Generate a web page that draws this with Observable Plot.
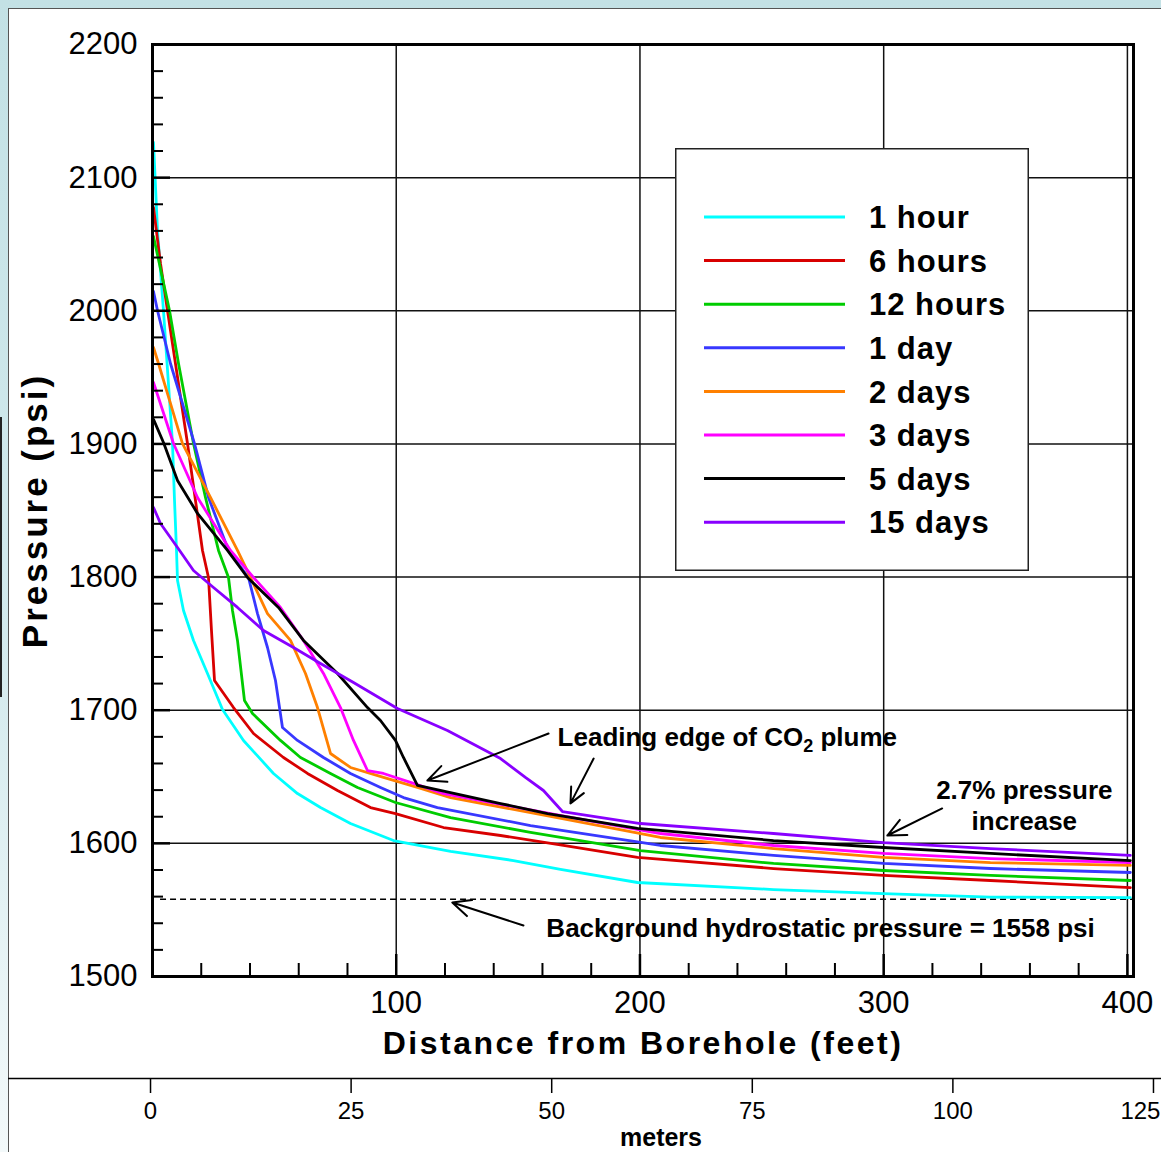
<!DOCTYPE html>
<html>
<head>
<meta charset="utf-8">
<script src="https://cdn.jsdelivr.net/npm/d3@7"></script>
<script src="https://cdn.jsdelivr.net/npm/@observablehq/plot@0.6"></script>
<style>
  body { margin: 0; }
  #wrap { position: relative; width: 1161px; height: 1152px; overflow: hidden;
          background: linear-gradient(to bottom, #c3e1e5 0%, #d3eaed 55%, #f3f9fa 100%);
          font-family: "Liberation Sans", Arial, sans-serif; }
  #panel { position: absolute; left: 8px; top: 8px; right: 0; bottom: 0; background: #fff;
           border-left: 1px solid #555; border-top: 1px solid #555; }
  #edge { position: absolute; left: 0; top: 417px; width: 2px; height: 280px; background: #222; }
  #main { position: absolute; left: 0; top: 0; }
  #meters { position: absolute; left: 0; top: 1077px; }
  #legend { position: absolute; left: 675px; top: 148px; }
</style>
</head>
<body>
<div id="wrap">
  <div id="panel"></div>
  <div id="edge"></div>
  <div id="main"></div>
  <div id="meters"></div>
  <div id="legend"></div>
</div>
<script>
// ---------- series ----------
const seriesNames = ["1 hour", "6 hours", "12 hours", "1 day", "2 days", "3 days", "5 days", "15 days"];
const seriesColors = ["#00ffff", "#d80000", "#00cc00", "#3838ff", "#ff8000", "#ff00ff", "#000000", "#8800ff"];

// [distance (ft), pressure (psi)]
const hour1 = [[0.41,2126.4],[2.05,2060.3],[4.51,2000],[8.21,1900.3],[9.03,1857.5],[9.85,1820],[10.26,1797.4],[12.72,1774.9],[16.82,1752.4],[22.56,1727.6],[28.72,1700.5],[37.33,1677.3],[49.64,1652.5],[59.49,1637.4],[68.92,1626.9],[81.23,1614.9],[98.87,1602.1],[122.3,1593.9],[148.1,1587.1],[167.4,1580.4],[199,1570.6],[254.8,1565.3],[299.9,1562.3],[343.8,1559.6],[401.2,1559.3]];
const hours6 = [[0.41,2077.6],[3.28,2035.5],[6.15,2000.2],[14.36,1900.3],[20.51,1820],[22.97,1799.7],[24.2,1759.9],[25.44,1722.3],[33.23,1702],[41.44,1682.5],[53.74,1664.5],[63.59,1652.5],[75.9,1639.7],[89.44,1626.9],[99.69,1622.4],[119.4,1611.9],[142.8,1605.9],[168.6,1598.4],[199,1589.4],[254.8,1581.1],[299.9,1575.9],[343.8,1572.1],[401.2,1566.8]];
const hours12 = [[0.41,2055.8],[6.97,2000.2],[10.67,1960.4],[16.82,1900.3],[21.74,1859.8],[27.08,1820],[31.18,1799.7],[32.82,1774.9],[34.87,1752.4],[37.74,1707.3],[41.03,1697.5],[52.51,1677.3],[60.72,1664.5],[73.03,1652.5],[84.1,1642],[99.69,1630.7],[122.3,1619.4],[155.1,1608.2],[200.2,1594.6],[254.8,1584.9],[299.9,1579.6],[343.8,1575.9],[401.2,1572.1]];
const day1 = [[0.41,2014.5],[2.05,2000.2],[7.38,1960.4],[17.23,1900.3],[22.97,1859.8],[31.18,1820],[39.38,1799.7],[43.08,1772.6],[47.18,1747.1],[50.46,1722.3],[53.33,1687],[59.49,1677.3],[70.15,1664.5],[81.23,1652.5],[93.54,1642],[102.97,1634.4],[116.9,1626.9],[155.1,1613.4],[208.4,1598.4],[254.8,1590.9],[299.9,1584.9],[343.8,1581.1],[401.2,1578.1]];
const days2 = [[0.41,1972.4],[2.46,1960.4],[12.31,1900.3],[23.79,1859.8],[34.87,1820],[40.2,1799.7],[47.18,1772.6],[56.62,1752.4],[62.77,1727.6],[67.69,1702],[73.03,1667.5],[81.23,1657],[94.77,1649.5],[108.7,1642],[122.3,1634.4],[163.3,1620.2],[208.4,1604.4],[254.8,1596.1],[299.9,1589.4],[343.8,1585.6],[401.2,1583.4]];
const days3 = [[0.41,1946.1],[8.62,1900.3],[18.46,1859.8],[32,1820],[41.44,1799.7],[52.51,1777.2],[61.95,1752.4],[70.15,1727.6],[77.13,1702],[82.46,1677.3],[88.21,1654.7],[94.77,1652.5],[107.1,1645],[119.4,1637.4],[163.3,1622.4],[208.4,1607.4],[254.8,1598.4],[299.9,1592.4],[343.8,1588.6],[401.2,1585.6]];
const days5 = [[0.41,1918.4],[4.51,1901.1],[10.26,1872.5],[18.46,1847.8],[30.77,1820],[38.97,1799.7],[51.69,1777.2],[61.95,1752.4],[75.9,1727.6],[88.21,1702],[93.54,1692.3],[99.69,1677.3],[102.97,1664.5],[108.7,1643.5],[142.8,1629.9],[162.1,1622.4],[199,1611.2],[254.8,1602.1],[299.9,1596.9],[343.8,1592.4],[401.2,1587.1]];
const days15 = [[0.41,1852.3],[3.28,1840.2],[10.26,1822.2],[16.82,1804.9],[25.03,1792.2],[34.87,1777.2],[45.54,1759.9],[57.85,1747.1],[68.92,1735.1],[82.46,1720.8],[100.5,1701.3],[121,1684.8],[142.8,1663.7],[153,1649.5],[160.4,1639.7],[168.2,1623.9],[200.2,1614.9],[254.8,1607.4],[299.9,1600.6],[343.8,1596.1],[401.2,1590.9]];
const seriesData = [hour1, hours6, hours12, day1, days2, days3, days5, days15];

// ---------- axes ----------
const feetLabels = [100, 200, 300, 400];
const feetMinor = [20, 40, 60, 80, 120, 140, 160, 180, 220, 240, 260, 280, 320, 340, 360, 380];
const psiLabels = [1500, 1600, 1700, 1800, 1900, 2000, 2100, 2200];
const psiGrid = [1600, 1700, 1800, 1900, 2000, 2100];
const psiMinor = [1520,1540,1560,1580,1620,1640,1660,1680,1720,1740,1760,1780,1820,1840,1860,1880,1920,1940,1960,1980,2020,2040,2060,2080,2120,2140,2160,2180];
const meterTicks = [0, 25, 50, 75, 100, 125];
const meterLabels = [0, 25, 50, 75, 100];
const meterLast = [125];
const background = 1558;

// ---------- annotations ----------
const startNotes = ["Leading edge of CO2 plume", "Background hydrostatic pressure = 1558 psi"];
const startNoteFt = [166.2, 161.6];
const startNotePsi = [1679.5, 1536];
const centerNotes = ["2.7% pressure\nincrease"];
const centerNoteFt = [357.7];
const centerNotePsi = [1628.8];
const arrowFromFt = [162.5, 181, 324, 152.2];
const arrowFromPsi = [1682.5, 1663.7, 1626.2, 1538.3];
const arrowToFt = [112.8, 171.5, 301.5, 123];
const arrowToPsi = [1647.2, 1630, 1605.9, 1555.6];

const rows = seriesNames.flatMap((name, i) => seriesData[i].map(([ft, psi]) => ({series: name, ft, psi})));
const notesStart = startNotes.map((t, i) => ({t, ft: startNoteFt[i], psi: startNotePsi[i]}));
const notesCenter = centerNotes.map((t, i) => ({t, ft: centerNoteFt[i], psi: centerNotePsi[i]}));
const arrows = arrowFromFt.map((d, i) => ({x1: d, y1: arrowFromPsi[i], x2: arrowToFt[i], y2: arrowToPsi[i]}));

const font = '"Liberation Sans", Arial, sans-serif';
const xDomain = [0, 402.5];

const main = Plot.plot({
  width: 1161, height: 1078,
  marginLeft: 152, marginRight: 28, marginTop: 44, marginBottom: 102,
  x: {domain: xDomain},
  y: {domain: [1500, 2200]},
  color: {domain: seriesNames, range: seriesColors},
  style: {fontFamily: font, background: "transparent", color: "#000", overflow: "visible"},
  marks: [
    Plot.gridX(feetLabels, {stroke: "#111", strokeOpacity: 1, strokeWidth: 1.5}),
    Plot.gridY(psiGrid, {stroke: "#111", strokeOpacity: 1, strokeWidth: 1.5}),
    Plot.ruleY([background], {x1: 3.3, x2: xDomain[1], stroke: "#000", strokeWidth: 1.5, strokeDasharray: "6,4"}),
    Plot.line(rows, {x: "ft", y: "psi", stroke: "series", strokeWidth: 2.8}),
    Plot.axisY(psiLabels, {tickSize: -18, tickFormat: () => "", label: null, strokeWidth: 2.5}),
    Plot.axisY(psiMinor, {tickSize: -11, tickFormat: () => "", label: null, strokeWidth: 2}),
    Plot.axisY(psiLabels, {tickSize: 0, tickPadding: 15, fontSize: 31, label: null, tickFormat: d => String(d)}),
    Plot.axisX(feetLabels, {tickSize: -22, tickFormat: () => "", label: null, strokeWidth: 2.5}),
    Plot.axisX(feetMinor, {tickSize: -13, tickFormat: () => "", label: null, strokeWidth: 2}),
    Plot.axisX(feetLabels, {tickSize: 0, tickPadding: 14, fontSize: 31, label: null, tickFormat: d => String(d)}),
    Plot.frame({stroke: "#000", strokeWidth: 3}),
    Plot.text(["Pressure (psi)"], {text: d => d, frameAnchor: "left", textAnchor: "middle", lineAnchor: "middle", rotate: -90, dx: -117, fontSize: 35, fontWeight: "bold"}),
    Plot.text(["Distance from Borehole (feet)"], {text: d => d, frameAnchor: "bottom", textAnchor: "middle", lineAnchor: "middle", dy: 67, fontSize: 32, fontWeight: "bold"}),
    Plot.arrow(arrows, {x1: "x1", y1: "y1", x2: "x2", y2: "y2", stroke: "#000", strokeWidth: 2, headLength: 15, headAngle: 50}),
    Plot.text(notesStart, {x: "ft", y: "psi", text: "t", textAnchor: "start", fontSize: 26, fontWeight: "bold"}),
    Plot.text(notesCenter, {x: "ft", y: "psi", text: "t", textAnchor: "middle", fontSize: 26, fontWeight: "bold", lineHeight: 1.19})
  ]
});

// sub-script and letter spacing touches
d3.select(main).selectAll("text").each(function() {
  const s = this.textContent;
  if (s === startNotes[0]) {
    const t = d3.select(this);
    t.text(null);
    t.append("tspan").text("Leading edge of CO");
    t.append("tspan").attr("dy", 6).attr("font-size", 18).text("2");
    t.append("tspan").attr("dy", -6).text(" plume");
  } else if (s === "Pressure (psi)") {
    d3.select(this).style("letter-spacing", "3px");
  } else if (s === "Distance from Borehole (feet)") {
    d3.select(this).style("letter-spacing", "2.5px");
  }
});
document.getElementById("main").appendChild(main);

// ---------- meters axis ----------
const meters = Plot.plot({
  width: 1161, height: 75,
  marginLeft: 8, marginRight: 0, marginTop: 1, marginBottom: 74,
  x: {domain: [-17.7, 126.0]},
  y: {axis: null},
  style: {fontFamily: font, background: "transparent", color: "#000", overflow: "visible"},
  marks: [
    Plot.ruleY([0], {stroke: "#000", strokeWidth: 1.5}),
    Plot.axisX(meterTicks, {anchor: "bottom", tickSize: 15, tickFormat: () => "", label: null, strokeWidth: 1.5}),
    Plot.axisX(meterLabels, {anchor: "bottom", tickSize: 0, tickPadding: 23, fontSize: 24, label: null}),
    Plot.text(meterLast, {x: d => d, text: d => String(d), frameAnchor: "bottom", textAnchor: "end", lineAnchor: "top", dx: 7, dy: 23, fontSize: 24}),
    Plot.text(["meters"], {text: d => d, frameAnchor: "bottom", textAnchor: "middle", lineAnchor: "middle", dx: 76, dy: 59, fontSize: 25, fontWeight: "bold"})
  ]
});
document.getElementById("meters").appendChild(meters);

// ---------- legend ----------
const lg = d3.select("#legend").append("svg").attr("width", 355).attr("height", 424)
  .style("font-family", font).style("overflow", "visible");
lg.append("rect").attr("x", 0.75).attr("y", 0.75).attr("width", 352.5).attr("height", 421.5)
  .attr("fill", "#fff").attr("stroke", "#222").attr("stroke-width", 1.5);
seriesNames.forEach((name, i) => {
  const cy = 69 + i * 43.6;
  lg.append("line").attr("x1", 29).attr("x2", 170).attr("y1", cy).attr("y2", cy)
    .attr("stroke", seriesColors[i]).attr("stroke-width", 3);
  lg.append("text").attr("x", 194).attr("y", cy).attr("dy", "0.36em")
    .attr("font-size", 31).attr("font-weight", "bold").style("letter-spacing", "1px")
    .text(name);
});
</script>
</body>
</html>
